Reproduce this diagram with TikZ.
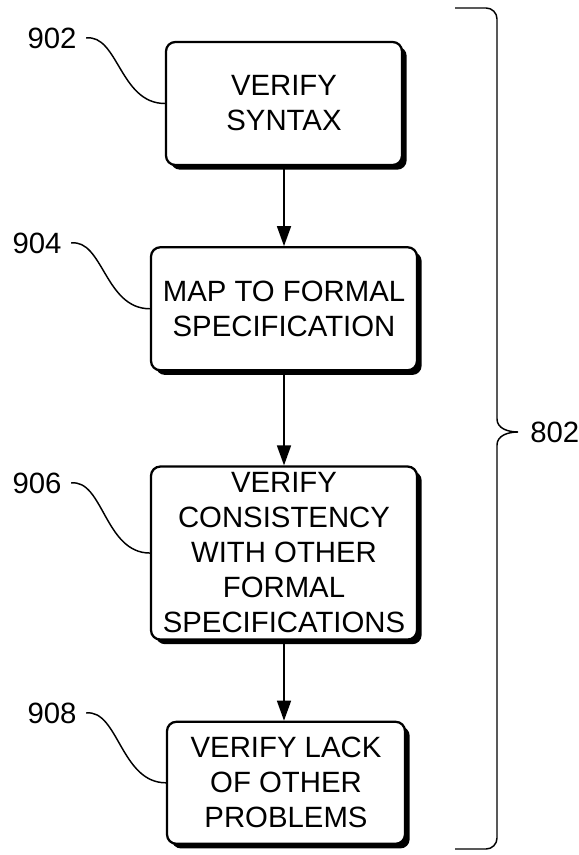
\documentclass[tikz,border=0pt]{standalone}
\usepackage{fontspec}
\setmainfont{Liberation Sans}
\usetikzlibrary{positioning,shadows,arrows.meta}

\begin{document}
\begin{tikzpicture}[x=0.75pt,y=-0.75pt,
	stepbox/.style={draw=black,line width=1.7pt,fill=white,rounded corners=7pt,inner sep=0pt,align=center,
		font=\fontsize{22}{26.25}\selectfont,
		drop shadow={shadow xshift=3.5pt,shadow yshift=-3.5pt,fill=black,opacity=1}},
	reflabel/.style={inner sep=0pt,font=\fontsize{22}{26}\selectfont},
	flow/.style={-{Triangle[length=15pt,width=10.5pt]},line width=1.2pt},
	lead/.style={line width=1.1pt}]
			\useasboundingbox (0,0) rectangle (578,855);
			
			\node[stepbox,minimum width=177pt,minimum height=92.25pt] (syntax) at (284,103.5) {VERIFY\\SYNTAX};
			\node[stepbox,minimum width=199.5pt,minimum height=92.25pt,below=60pt of syntax] (map) {MAP TO FORMAL\\SPECIFICATION};
			\node[stepbox,minimum width=199.5pt,minimum height=129.75pt,below=70.5pt of map] (consist) {VERIFY\\CONSISTENCY\\WITH OTHER\\FORMAL\\SPECIFICATIONS};
			\node[stepbox,minimum width=178.5pt,minimum height=91.5pt,below=60pt of consist,xshift=1.5pt] (lack) {VERIFY LACK\\OF OTHER\\PROBLEMS};
			
			\draw[flow] (syntax.south)--(map.north);
			\draw[flow] (map.south)--(consist.north);
			\draw[flow] (consist.south)--(consist.south|-lack.north);
			
			% reference numerals
			\node[reflabel] (n902) at (52,38) {902};
			\node[reflabel] (n904) at (37,243) {904};
			\node[reflabel] (n906) at (37,483) {906};
			\node[reflabel] (n908) at (52,713) {908};
			
			\draw[lead] ([xshift=7pt]n902.east) .. controls +(32,-4) and +(-45,0) .. (syntax.west);
			\draw[lead] ([xshift=7pt]n904.east) .. controls +(32,-4) and +(-45,0) .. (map.west);
			\draw[lead] ([xshift=7pt]n906.east) .. controls +(32,-4) and +(-45,0) .. (consist.west);
			\draw[lead] ([xshift=7pt]n908.east) .. controls +(32,-4) and +(-45,0) .. (lack.west);
			
			% brace
			\coordinate (tip) at (518,432);
			\node[reflabel,anchor=west] (n802) at ([xshift=9pt]tip) {802};
			\draw[lead] (455,8) -- (486,8) to[out=0,in=90] (497,19) -- (497,419) to[out=-90,in=180] (tip)
				to[out=180,in=90] (497,445) -- (497,838) to[out=-90,in=0] (486,849) -- (455,849);
		\end{tikzpicture}
\end{document}
